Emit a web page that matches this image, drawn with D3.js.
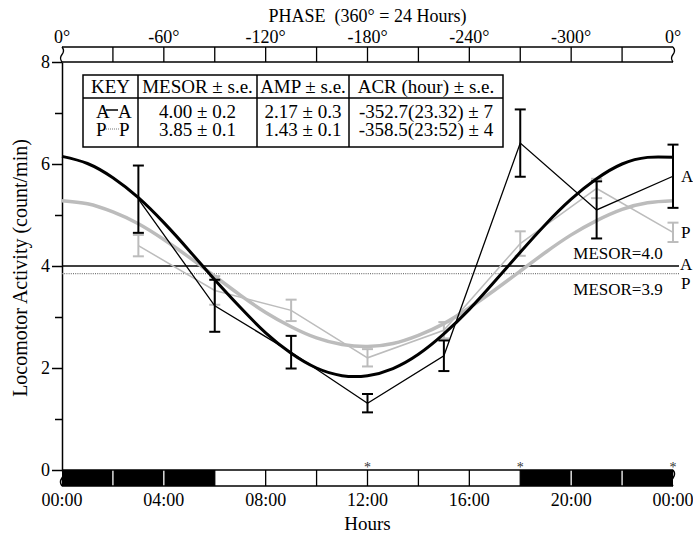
<!DOCTYPE html>
<html>
<head>
<meta charset="utf-8">
<script src="https://cdnjs.cloudflare.com/ajax/libs/d3/7.8.5/d3.min.js"></script>
<style>
  body { margin: 0; background: #fff; }
  svg text { font-family: "Liberation Serif", "Times New Roman", serif; }
</style>
</head>
<body>
<div id="chart"></div>
<script>
// sample times (hours) and group means with s.e.
const hours = [3, 6, 9, 12, 15, 18, 21, 24];
const activeMean = [5.31, 3.22, 2.31, 1.31, 2.24, 6.41, 5.10, 5.76];
const activeSE   = [0.66, 0.51, 0.32, 0.18, 0.30, 0.66, 0.56, 0.62];
const placeboMean = [4.40, 3.52, 3.13, 2.20, 2.74, 4.44, 5.52, 4.66];
const placeboSE   = [0.21, 0.28, 0.21, 0.17, 0.16, 0.24, 0.19, 0.19];

// fitted cosinor curves, read hour by hour
const fitHours = [0,1,2,3,4,5,6,7,8,9,10,11,12,13,14,15,16,17,18,19,20,21,22,23,24];
const activeFit = [6.15,6.01,5.73,5.34,4.85,4.30,3.73,3.19,2.69,2.29,2.00,1.85,1.85,
                   1.99,2.27,2.67,3.15,3.70,4.27,4.82,5.31,5.71,6.00,6.13,6.13];
const placeboFit = [5.28,5.22,5.06,4.83,4.52,4.17,3.80,3.43,3.09,2.81,2.59,2.46,2.42,
                    2.48,2.64,2.87,3.18,3.53,3.90,4.27,4.61,4.89,5.11,5.24,5.28];

const activeMesor = 4.0;
const placeboMesor = 3.85;

const yTicks = [0, 2, 4, 6, 8];
const yMinor = [1, 3, 5, 7];
const timeTicks = [0, 4, 8, 12, 16, 20, 24];
const timeLabels = ["00:00", "04:00", "08:00", "12:00", "16:00", "20:00", "00:00"];
const phaseLabels = ["0°", "-60°", "-120°", "-180°", "-240°", "-300°", "0°"];
const cellHours = [2, 4, 6, 8, 10, 12, 14, 16, 18, 20, 22];
const darkPeriods = [[0, 6], [18, 24]];
const starHours = [12, 18, 24];

const keyHeader = ["KEY", "MESOR ± s.e.", "AMP ± s.e.", "ACR (hour) ± s.e."];
const keyRows = [
  ["4.00 ± 0.2", "2.17 ± 0.3", "-352.7(23.32) ± 7"],
  ["3.85 ± 0.1", "1.43 ± 0.1", "-358.5(23:52) ± 4"]
];

const W = 693, H = 535;
const GRAY = "#bcbcbc";
const FONT = "Liberation Serif";

const svg = d3.select("#chart").append("svg")
  .attr("width", W).attr("height", H)
  .attr("font-family", FONT);

const x = d3.scaleLinear().domain([0, 24]).range([62, 673]);
const y = d3.scaleLinear().domain([0, 8]).range([470, 62]);

// y axis
const yAxis = svg.append("g").attr("transform", "translate(62,0)")
  .call(d3.axisLeft(y).tickValues(yTicks).tickSize(10).tickSizeOuter(0).tickPadding(2))
  .attr("font-family", FONT);
yAxis.selectAll("text").attr("font-size", 18).attr("fill", "#000");
yAxis.selectAll("line, path").attr("stroke", "#000").attr("stroke-width", 1.5);
svg.append("g").attr("transform", "translate(62,0)")
  .call(d3.axisLeft(y).tickValues(yMinor).tickSize(7).tickFormat(""))
  .call(g => g.select(".domain").remove())
  .selectAll("line").attr("stroke", "#000").attr("stroke-width", 1.5);

svg.append("text")
  .attr("transform", "translate(27,268) rotate(-90)")
  .attr("text-anchor", "middle").attr("font-size", 20)
  .text("Locomotor Activity (count/min)");

// wavy end of a bar
function squiggle(x0, y0, h) {
  return `M${x0},${y0} q3,${h / 4} 0,${h / 2} t0,${h / 2}`;
}

// phase bar on top
const phase = svg.append("g");
const pTop = 47, pBot = 62;
phase.append("rect").attr("x", x(0)).attr("y", pTop)
  .attr("width", x(24) - x(0)).attr("height", pBot - pTop).attr("fill", "#fff");
phase.selectAll(".ph").data([pTop, pBot]).join("line")
  .attr("x1", x(0)).attr("x2", x(24)).attr("y1", d => d).attr("y2", d => d)
  .attr("stroke", "#000").attr("stroke-width", 1.5);
phase.selectAll(".pc").data(cellHours).join("line")
  .attr("x1", d => x(d)).attr("x2", d => x(d)).attr("y1", pTop).attr("y2", pBot)
  .attr("stroke", "#000").attr("stroke-width", 1.3);
phase.selectAll(".pw").data([0, 24]).join("path")
  .attr("d", d => squiggle(x(d), pTop, pBot - pTop))
  .attr("fill", "none").attr("stroke", "#000").attr("stroke-width", 1.3);
phase.selectAll(".pl").data(timeTicks).join("text")
  .attr("x", d => x(d)).attr("y", 43).attr("text-anchor", "middle")
  .attr("font-size", 18).text((d, i) => phaseLabels[i]);
svg.append("text").attr("x", (x(0) + x(24)) / 2).attr("y", 22)
  .attr("text-anchor", "middle").attr("font-size", 18)
  .text("PHASE  (360° = 24 Hours)").style("white-space", "pre");

// light/dark bar at the bottom
const bTop = 470, bBot = 486;
const lb = svg.append("g");
lb.append("rect").attr("x", x(0)).attr("y", bTop)
  .attr("width", x(24) - x(0)).attr("height", bBot - bTop).attr("fill", "#fff");
lb.selectAll(".dk").data(darkPeriods).join("rect")
  .attr("x", d => x(d[0])).attr("y", bTop)
  .attr("width", d => x(d[1]) - x(d[0])).attr("height", bBot - bTop).attr("fill", "#000");
const isDark = h => darkPeriods.some(p => h > p[0] && h < p[1]);
lb.selectAll(".bc").data(cellHours).join("line")
  .attr("x1", d => x(d)).attr("x2", d => x(d)).attr("y1", bTop).attr("y2", bBot)
  .attr("stroke", d => isDark(d) ? "#fff" : "#000").attr("stroke-width", 1.3);
lb.selectAll(".bh").data([bTop, bBot]).join("line")
  .attr("x1", x(0)).attr("x2", x(24)).attr("y1", d => d).attr("y2", d => d)
  .attr("stroke", "#000").attr("stroke-width", 1.5);
lb.selectAll(".bw").data([0, 24]).join("path")
  .attr("d", d => squiggle(x(d), bTop, bBot - bTop))
  .attr("fill", "none").attr("stroke", "#000").attr("stroke-width", 1.5);
lb.selectAll(".bt").data(timeTicks).join("text")
  .attr("x", d => x(d)).attr("y", 506).attr("text-anchor", "middle")
  .attr("font-size", 18).text((d, i) => timeLabels[i]);
svg.append("text").attr("x", (x(0) + x(24)) / 2).attr("y", 530)
  .attr("text-anchor", "middle").attr("font-size", 19).text("Hours");
svg.selectAll(".star").data(starHours).join("text")
  .attr("x", d => x(d)).attr("y", 472).attr("text-anchor", "middle")
  .attr("font-size", 14).attr("fill", "#333").text("*");

// MESOR lines
svg.append("line").attr("x1", x(0)).attr("x2", 679)
  .attr("y1", y(activeMesor)).attr("y2", y(activeMesor))
  .attr("stroke", "#000").attr("stroke-width", 1.3);
svg.append("line").attr("x1", x(0)).attr("x2", 679)
  .attr("y1", y(placeboMesor)).attr("y2", y(placeboMesor))
  .attr("stroke", "#777").attr("stroke-width", 1.3).attr("stroke-dasharray", "1,1.2");
svg.append("text").attr("x", 618).attr("y", y(activeMesor) - 7)
  .attr("text-anchor", "middle").attr("font-size", 17).text("MESOR=4.0");
svg.append("text").attr("x", 618).attr("y", y(placeboMesor) + 21)
  .attr("text-anchor", "middle").attr("font-size", 17).text("MESOR=3.9");
svg.append("text").attr("x", 680).attr("y", y(activeMesor) + 4).attr("font-size", 17).text("A");
svg.append("text").attr("x", 681).attr("y", y(placeboMesor) + 15).attr("font-size", 17).text("P");

const fitLine = d3.line().x((d, i) => x(fitHours[i])).y(d => y(d)).curve(d3.curveNatural);
const dataLine = d3.line().x((d, i) => x(hours[i])).y(d => y(d));

function errorBars(mean, se, color) {
  const g = svg.append("g").attr("stroke", color).attr("stroke-width", 2).attr("fill", "none");
  g.selectAll(".v").data(mean).join("line")
    .attr("x1", (d, i) => x(hours[i])).attr("x2", (d, i) => x(hours[i]))
    .attr("y1", (d, i) => y(d + se[i])).attr("y2", (d, i) => y(d - se[i]));
  g.selectAll(".t").data(mean).join("line")
    .attr("x1", (d, i) => x(hours[i]) - 5.5).attr("x2", (d, i) => x(hours[i]) + 5.5)
    .attr("y1", (d, i) => y(d + se[i])).attr("y2", (d, i) => y(d + se[i]));
  g.selectAll(".b").data(mean).join("line")
    .attr("x1", (d, i) => x(hours[i]) - 5.5).attr("x2", (d, i) => x(hours[i]) + 5.5)
    .attr("y1", (d, i) => y(d - se[i])).attr("y2", (d, i) => y(d - se[i]));
}

// placebo (gray)
svg.append("path").attr("d", fitLine(placeboFit)).attr("fill", "none")
  .attr("stroke", GRAY).attr("stroke-width", 3.5);
svg.append("path").attr("d", dataLine(placeboMean)).attr("fill", "none")
  .attr("stroke", GRAY).attr("stroke-width", 1.5);
errorBars(placeboMean, placeboSE, GRAY);

// active (black)
svg.append("path").attr("d", fitLine(activeFit)).attr("fill", "none")
  .attr("stroke", "#000").attr("stroke-width", 3);
svg.append("path").attr("d", dataLine(activeMean)).attr("fill", "none")
  .attr("stroke", "#000").attr("stroke-width", 1.3);
errorBars(activeMean, activeSE, "#000");

const last = hours.length - 1;
svg.append("text").attr("x", 681).attr("y", y(activeMean[last]) + 6).attr("font-size", 17).text("A");
svg.append("text").attr("x", 681).attr("y", y(placeboMean[last]) + 6).attr("font-size", 17).text("P");

// key table
const key = svg.append("g");
const kx = [83, 138, 257, 349, 503];
const kTop = 75, kMid = 98, kBot = 147;
key.append("rect").attr("x", kx[0]).attr("y", kTop)
  .attr("width", kx[4] - kx[0]).attr("height", kBot - kTop)
  .attr("fill", "#fff").attr("stroke", "#000").attr("stroke-width", 1.5);
key.append("line").attr("x1", kx[0]).attr("x2", kx[4]).attr("y1", kMid).attr("y2", kMid)
  .attr("stroke", "#000").attr("stroke-width", 1.5);
key.selectAll(".kc").data(kx.slice(1, 4)).join("line")
  .attr("x1", d => d).attr("x2", d => d).attr("y1", kTop).attr("y2", kBot)
  .attr("stroke", "#000").attr("stroke-width", 1.5);
key.selectAll(".kh").data(keyHeader).join("text")
  .attr("x", (d, i) => (kx[i] + kx[i + 1]) / 2).attr("y", 93)
  .attr("text-anchor", "middle").attr("font-size", 19).text(d => d);
keyRows.forEach((row, r) => {
  key.selectAll(".kr" + r).data(row).join("text")
    .attr("x", (d, i) => (kx[i + 1] + kx[i + 2]) / 2).attr("y", 118 + r * 18)
    .attr("text-anchor", "middle").attr("font-size", 19).text(d => d);
});
// key symbols
key.append("text").attr("x", 96).attr("y", 118).attr("font-size", 19).text("A");
key.append("text").attr("x", 118).attr("y", 118).attr("font-size", 19).text("A");
key.append("line").attr("x1", 106).attr("x2", 118).attr("y1", 110).attr("y2", 110)
  .attr("stroke", "#000").attr("stroke-width", 1.5);
key.append("text").attr("x", 96).attr("y", 136).attr("font-size", 19).text("P");
key.append("text").attr("x", 119).attr("y", 136).attr("font-size", 19).text("P");
key.append("line").attr("x1", 106).attr("x2", 119).attr("y1", 129).attr("y2", 129)
  .attr("stroke", "#777").attr("stroke-width", 1.2).attr("stroke-dasharray", "1,1");
</script>
</body>
</html>
